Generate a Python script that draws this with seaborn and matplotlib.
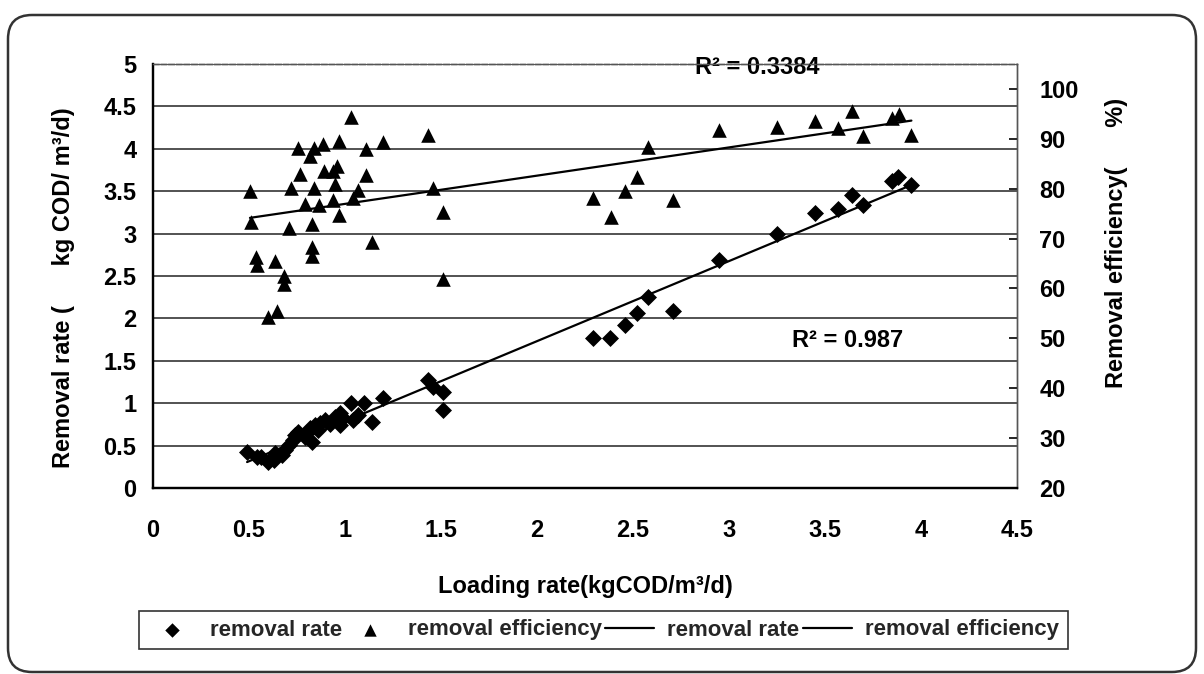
import matplotlib
matplotlib.use("Agg")
import matplotlib.pyplot as plt
from matplotlib.patches import FancyBboxPatch
from matplotlib.ticker import FuncFormatter
from matplotlib.collections import PathCollection
from matplotlib.lines import Line2D
import seaborn as sns

# ---- data ----
rate_x = [0.49, 0.54, 0.60, 0.635, 0.67, 0.71, 0.74, 0.755, 0.79, 0.82,
          0.83, 0.845, 0.87, 0.895, 0.95, 0.975, 0.975, 1.03, 1.04, 1.07,
          1.10, 1.14, 1.20, 1.43, 1.46, 1.51, 1.51,
          0.56, 0.63, 0.69, 0.80, 0.86, 0.92, 0.99, 0.73,
          2.29, 2.38, 2.46, 2.52, 2.58, 2.71, 2.95,
          3.25, 3.45, 3.57, 3.64, 3.70, 3.85, 3.88, 3.95]
rate_y = [0.42, 0.37, 0.31, 0.41, 0.39, 0.51, 0.63, 0.66, 0.60, 0.71,
          0.54, 0.74, 0.77, 0.80, 0.84, 0.88, 0.74, 1.00, 0.80, 0.86,
          1.00, 0.78, 1.06, 1.27, 1.19, 1.13, 0.92,
          0.36, 0.33, 0.45, 0.66, 0.68, 0.76, 0.82, 0.57,
          1.77, 1.77, 1.92, 2.06, 2.25, 2.09, 2.69,
          3.00, 3.24, 3.29, 3.46, 3.34, 3.62, 3.67, 3.57]

eff_x = [1.03, 0.755, 0.84, 0.885, 0.97, 0.82, 1.11, 1.20, 0.766, 0.89,
         0.96, 0.94, 1.11, 0.505, 0.72, 0.84, 0.95, 1.07, 1.04, 0.79,
         0.865, 0.94, 0.97, 0.51, 0.71, 0.83, 1.14, 0.83, 0.83, 0.535,
         0.54, 0.635, 0.68, 0.68, 0.645, 0.60,
         1.51, 1.46, 1.43, 1.51,
         2.29, 2.385, 2.46, 2.52, 2.58, 2.71, 2.95, 3.25, 3.45, 3.57,
         3.64, 3.70, 3.85, 3.885, 3.95]
eff_y = [94.4, 88.1, 88.1, 89.0, 89.6, 86.5, 88.0, 89.4, 82.9, 83.5,
         84.5, 83.5, 82.7, 79.5, 80.1, 80.1, 80.9, 79.7, 78.1, 76.9,
         76.7, 77.7, 74.8, 73.4, 72.2, 73.0, 69.4, 68.4, 66.6, 66.4,
         64.8, 65.6, 62.5, 60.9, 55.5, 54.3,
         75.4, 80.1, 90.8, 61.9,
         78.1, 74.4, 79.5, 82.3, 88.3, 77.7, 91.8, 92.4, 93.6, 92.2,
         95.6, 90.6, 94.2, 95.0, 90.8]

x_ticks = [0, 0.5, 1, 1.5, 2, 2.5, 3, 3.5, 4, 4.5]
left_ticks = [0, 0.5, 1, 1.5, 2, 2.5, 3, 3.5, 4, 4.5, 5]
right_ticks = [20, 30, 40, 50, 60, 70, 80, 90, 100]

series_names = ["removal rate", "removal efficiency"]
r2_rate_text = "R² = 0.987"
r2_eff_text = "R² = 0.3384"
x_label = "Loading rate(kgCOD/m³/d)"
left_label = "Removal rate (      kg COD/ m³/d)"
right_label = "Removal efficiency(      %)"

# ---- style ----
sns.set_theme(style="white")
plt.rcParams["font.family"] = ["Liberation Sans Narrow", "Liberation Sans", "DejaVu Sans"]
plt.rcParams["axes.unicode_minus"] = False

fig = plt.figure(figsize=(12.04, 6.74), dpi=100)
W, H = 1204, 674
ax = fig.add_axes([153 / W, 1 - 488 / H, (1017 - 153) / W, (488 - 64) / H])
ax2 = ax.twinx()

# scatter + trend lines
sns.scatterplot(x=rate_x, y=rate_y, ax=ax, marker="D", color="black",
                s=75, linewidth=0, label=series_names[0], zorder=3)
sns.regplot(x=rate_x, y=rate_y, ax=ax, scatter=False, ci=None, truncate=True,
            color="black", line_kws=dict(lw=1.6), label=series_names[0])
sns.scatterplot(x=eff_x, y=eff_y, ax=ax2, marker="^", color="black",
                s=110, linewidth=0, label=series_names[1], zorder=3)
sns.regplot(x=eff_x, y=eff_y, ax=ax2, scatter=False, ci=None, truncate=True,
            color="black", line_kws=dict(lw=1.6), label=series_names[1])

for a in (ax, ax2):
    if a.get_legend() is not None:
        a.get_legend().remove()

# axes limits & ticks
ax.set_xlim(0, 4.5)
ax.set_ylim(0, 5)
ax2.set_ylim(20, 105)
ax.set_xticks(x_ticks)
ax.set_yticks(left_ticks)
ax2.set_yticks(right_ticks)
fmt = FuncFormatter(lambda v, p: f"{v:g}")
ax.xaxis.set_major_formatter(fmt)
ax.yaxis.set_major_formatter(fmt)
ax2.yaxis.set_major_formatter(fmt)

for lab in ax.get_xticklabels() + ax.get_yticklabels() + ax2.get_yticklabels():
    lab.set_fontsize(17)
    lab.set_fontweight("bold")
    lab.set_color("black")

ax.tick_params(axis="x", direction="in", length=6, width=1.2, pad=22, colors="black")
ax.tick_params(axis="y", length=0, pad=12, colors="black")
ax2.tick_params(axis="y", direction="in", length=6, width=1.2, pad=16, colors="black",
                right=True)

# grid
ax.yaxis.grid(True, color="#444444", lw=1.3)
ax.xaxis.grid(False)
ax2.grid(False)
ax.set_axisbelow(True)

# spines
for a in (ax, ax2):
    a.spines["left"].set_color("black")
    a.spines["left"].set_linewidth(1.6)
    a.spines["bottom"].set_color("black")
    a.spines["bottom"].set_linewidth(1.6)
    a.spines["top"].set_color("#555555")
    a.spines["top"].set_linewidth(1.0)
    a.spines["top"].set_linestyle((0, (4, 1.5)))
    a.spines["right"].set_color("#555555")
    a.spines["right"].set_linewidth(1.0)

# labels
ax.set_xlabel(x_label, fontsize=17, color="black", fontweight="bold")
ax.xaxis.set_label_coords(0.5, -0.205)
ax.set_ylabel(left_label, fontsize=17, color="black", fontweight="bold")
ax.yaxis.set_label_coords(-0.090, 0.472)
ax2.set_ylabel(right_label, fontsize=17, color="black", rotation=90, fontweight="bold")
ax2.yaxis.set_label_coords(1.102, 0.578)

# R² annotations
ax.text(3.146, 4.96, r2_eff_text, ha="center", va="center", fontsize=17,
        fontweight="bold", color="black", zorder=5)
ax.text(3.62, 1.745, r2_rate_text, ha="center", va="center", fontsize=17,
        fontweight="bold", color="black", zorder=5)

# legend: diamond, triangle, rate line, efficiency line
h1, l1 = ax.get_legend_handles_labels()
h2, l2 = ax2.get_legend_handles_labels()
sc = [h for h in h1 + h2 if isinstance(h, PathCollection)]
ln = [h for h in h1 + h2 if isinstance(h, Line2D)]
handles = sc + ln
labels = [series_names[0], series_names[1], series_names[0], series_names[1]]
leg = fig.legend(handles, labels, ncol=4, mode="expand",
                 bbox_to_anchor=(139 / W, 1 - 657 / H, (1068 - 139) / W, 54 / H),
                 loc="center", frameon=True, fancybox=False, edgecolor="black",
                 fontsize=16, markerscale=0.85, handlelength=2.2, handletextpad=0.6,
                 columnspacing=1.0, borderaxespad=0)
leg.get_frame().set_linewidth(1.2)
for t in leg.get_texts():
    t.set_fontweight("bold")

# outer rounded border
border = FancyBboxPatch((8, 2), 1188, 657,
                        boxstyle="round,pad=0,rounding_size=24",
                        transform=None, fill=False, edgecolor="#333333", lw=1.8,
                        figure=fig)
fig.patches.append(border)

fig.savefig("out.png", dpi=100, facecolor="white")
